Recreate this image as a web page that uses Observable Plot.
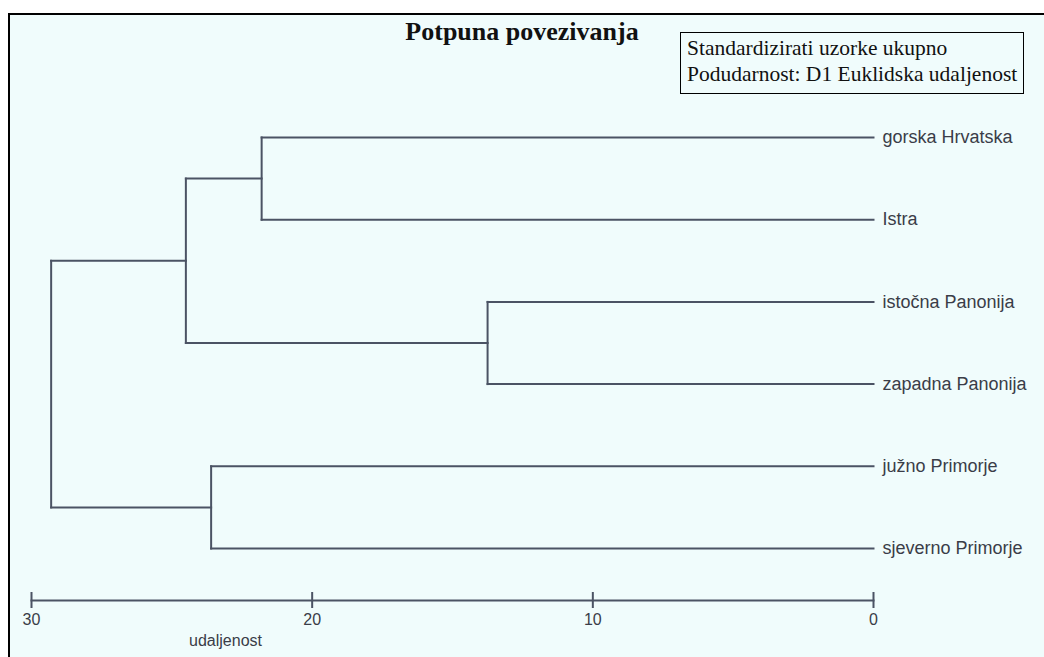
<!DOCTYPE html>
<html>
<head>
<meta charset="utf-8">
<script src="https://cdn.jsdelivr.net/npm/d3@7"></script>
<script src="https://cdn.jsdelivr.net/npm/@observablehq/plot@0.6"></script>
<style>
html, body { margin: 0; padding: 0; background: #ffffff; width: 1044px; height: 657px; overflow: hidden; }
#panel { position: absolute; left: 8px; top: 13px; right: 0; bottom: 0; background: #f0fcfc; border-top: 2px solid #000; border-left: 2px solid #000; }
#chart { position: absolute; left: 0; top: 0; }
#title { position: absolute; left: 0; width: 1044px; top: 19px; text-align: center; font-family: "Liberation Serif", "Times New Roman", serif; font-weight: bold; font-size: 26px; line-height: 26px; color: #111; }
#legend { position: absolute; left: 680px; top: 32px; width: 336px; height: 58px; border: 1px solid #000; padding: 2px 0 0 6px; font-family: "Liberation Serif", "Times New Roman", serif; font-size: 21.5px; line-height: 26px; color: #111; white-space: nowrap; }
</style>
</head>
<body>
<div id="panel"></div>
<div id="chart"></div>
<div id="title"></div>
<div id="legend"></div>
<script>
// ---- data ----
const chartTitle = "Potpuna povezivanja";
const legendLines = ["Standardizirati uzorke ukupno", "Podudarnost: D1 Euklidska udaljenost"];
const axisTitle = "udaljenost";
const leaves = ["gorska Hrvatska", "Istra", "istočna Panonija", "zapadna Panonija", "južno Primorje", "sjeverno Primorje"];
const mergeName = ["K1", "K2", "K3", "K4", "K5"];
const mergeLeft = ["istočna Panonija", "gorska Hrvatska", "južno Primorje", "K2", "K4"];
const mergeRight = ["zapadna Panonija", "Istra", "sjeverno Primorje", "K1", "K3"];
const mergeHeight = [13.75, 21.8, 23.6, 24.5, 29.3];
const xTicks = [30, 20, 10, 0];

// ---- build dendrogram segments ----
const nodes = new Map(leaves.map((name, i) => [name, {h: 0, y: i}]));
const segs = [];
mergeName.forEach((name, k) => {
  const a = nodes.get(mergeLeft[k]);
  const b = nodes.get(mergeRight[k]);
  const h = mergeHeight[k];
  segs.push({x1: a.h, x2: h, y1: a.y, y2: a.y});
  segs.push({x1: b.h, x2: h, y1: b.y, y2: b.y});
  segs.push({x1: h, x2: h, y1: a.y, y2: b.y});
  nodes.set(name, {h, y: (a.y + b.y) / 2});
});

const lineColor = "#4b5364";
const textColor = "#3a3d48";

document.getElementById("title").textContent = chartTitle;
document.getElementById("legend").innerHTML = legendLines.map(t => `<div>${t}</div>`).join("");

const plot = Plot.plot({
  width: 1044,
  height: 657,
  marginLeft: 31,
  marginRight: 171,
  marginTop: 100,
  marginBottom: 57,
  style: {background: "transparent", overflow: "visible", fontFamily: "Liberation Sans, Arial, sans-serif"},
  x: {domain: [30, 0], axis: null},
  y: {domain: [0, leaves.length - 1], range: [137, 548], axis: null},
  marks: [
    Plot.frame({anchor: "bottom", stroke: lineColor, strokeWidth: 2}),
    Plot.axisX(xTicks, {
      tickSize: 16,
      dy: -8,
      tickPadding: 5,
      stroke: lineColor,
      strokeWidth: 2,
      fill: textColor,
      fontSize: 16,
      fontFamily: "Liberation Sans, Arial, sans-serif",
      tickFormat: d => String(d),
      label: null
    }),
    Plot.text([axisTitle], {
      frameAnchor: "bottom-left",
      dx: 194,
      dy: 40,
      text: d => d,
      textAnchor: "middle",
      lineAnchor: "middle",
      fontSize: 16,
      fill: textColor,
      fontFamily: "Liberation Sans, Arial, sans-serif"
    }),
    Plot.link(segs, {
      x1: "x1", y1: "y1", x2: "x2", y2: "y2",
      stroke: lineColor,
      strokeWidth: 2,
      strokeLinecap: "square"
    }),
    Plot.text(leaves, {
      x: () => 0,
      y: (d, i) => i,
      text: d => d,
      dx: 9,
      textAnchor: "start",
      fontSize: 18,
      fill: textColor,
      fontFamily: "Liberation Sans, Arial, sans-serif"
    })
  ]
});
document.getElementById("chart").appendChild(plot);
</script>
</body>
</html>
